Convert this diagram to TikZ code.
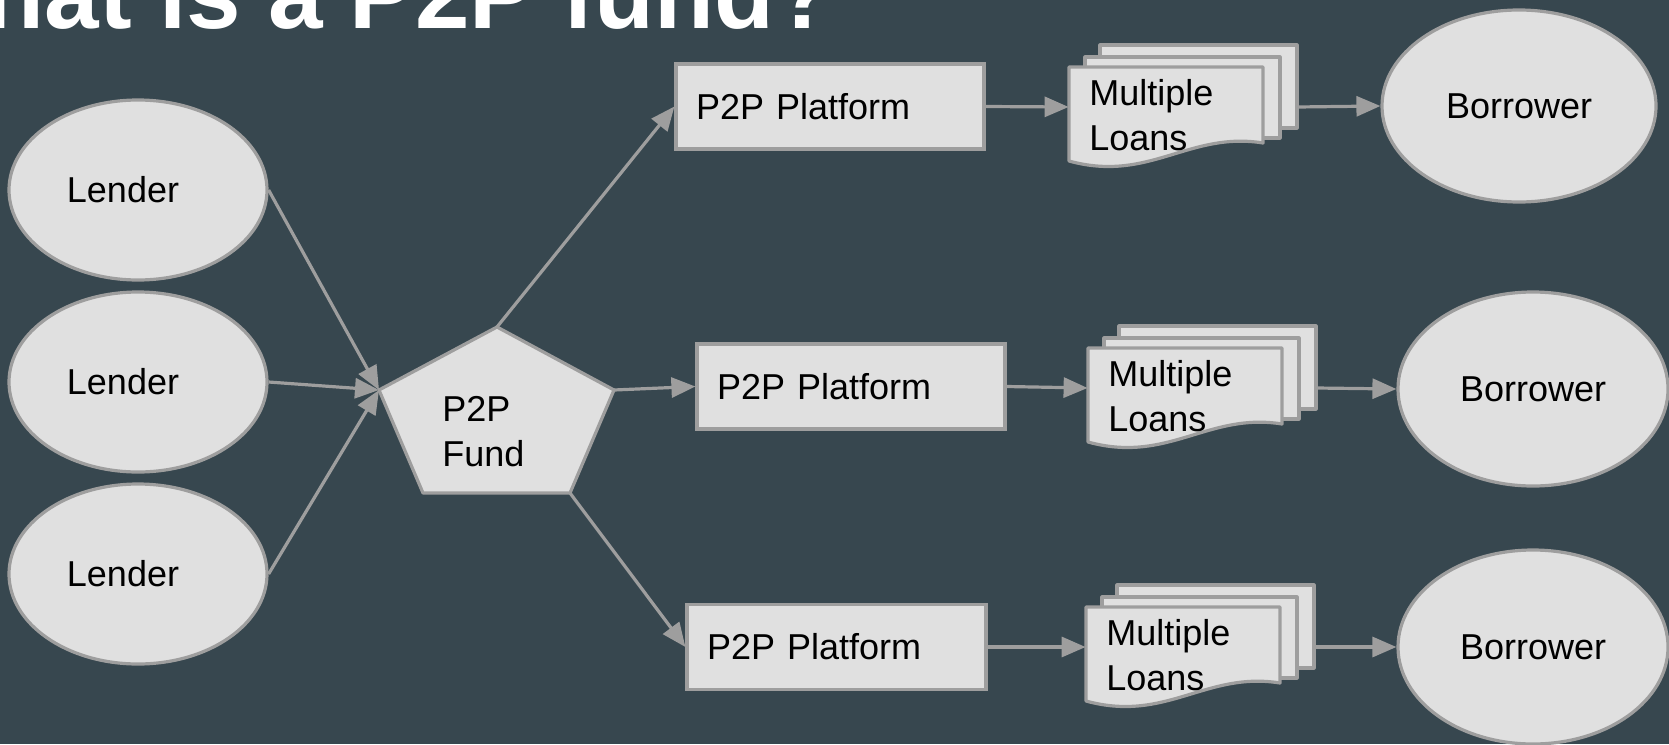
\documentclass[tikz,border=0pt]{standalone}
\usepackage{fontspec}
\setmainfont{Liberation Sans}
\usetikzlibrary{arrows.meta}
\usetikzlibrary{shapes.geometric}
\definecolor{slate}{HTML}{37474F}
\definecolor{paper}{HTML}{E0E0E0}
\definecolor{rim}{HTML}{9E9E9E}
\tikzset{
	party/.style={ellipse,draw=rim,fill=paper,line width=1.6pt,inner sep=0pt},
	platform/.style={rectangle,draw=rim,fill=paper,line width=1.6pt,inner xsep=10pt,inner ysep=0pt,minimum height=42.5pt,text width=134pt,align=left},
	sheet/.style={draw=rim,fill=paper,line width=1.6pt,line join=round},
	flow/.style={draw=rim,line width=1.6pt,-{Triangle[length=12pt,width=10pt]}},
}
\newcommand{\loanstack}[2]{%
	\begin{scope}[shift={#2}]
		\draw[sheet] (31,-22) rectangle (228,61);
		\draw[sheet] (16,-10) rectangle (211,71);
		\draw[sheet] (0,0) -- (194,0) -- (194,76) .. controls (120,64) and (80,116) .. (0,94) -- cycle;
		\node[anchor=base west,align=left,inner sep=0pt] (#1txt) at (20,83) {Multiple\\Loans};
		\node[inner sep=0pt,minimum width=114pt,minimum height=40pt] (#1) at (114,40) {};
	\end{scope}}
\begin{document}
\begin{tikzpicture}[x=0.5pt,y=-0.5pt,font=\fontsize{18}{22.5}\selectfont]
	\fill[slate] (0,0) rectangle (1669,744);
	\useasboundingbox (0,0) rectangle (1669,744);
	\node[anchor=base west,text=white,font=\fontsize{49}{52}\selectfont\bfseries,inner sep=0pt] (title) at (-108,28) {What is a P2P fund?};
	\node[party,minimum width=129pt,minimum height=90pt] (lender1) at (138,190) {Lender\hspace*{15pt}};
	\node[party,minimum width=129pt,minimum height=90pt] (lender2) at (138,382) {Lender\hspace*{15pt}};
	\node[party,minimum width=129pt,minimum height=90pt] (lender3) at (138,574) {Lender\hspace*{15pt}};
	\coordinate (fundtop) at (497,327);
	\coordinate (fundright) at (614,390);
	\coordinate (fundbr) at (570,493);
	\coordinate (fundbl) at (423,493);
	\coordinate (fundleft) at (379,390);
	\draw[sheet] (fundtop) -- (fundright) -- (fundbr) -- (fundbl) -- (fundleft) -- cycle;
	\node[anchor=base west,align=left,inner sep=0pt] (fund) at (442,466) {P2P\\Fund};
	\node[platform] (plat1) at (830,106.5) {P2P Platform};
	\node[platform] (plat2) at (851,386.5) {P2P Platform};
	\node[platform,text width=129.5pt] (plat3) at (836.5,647) {P2P Platform};
	\loanstack{loans1}{(1069,67)}
	\loanstack{loans2}{(1088,348)}
	\loanstack{loans3}{(1086,607)}
	\node[party,minimum width=137pt,minimum height=96pt] (borrower1) at (1519,106) {Borrower};
	\node[party,minimum width=135pt,minimum height=97pt] (borrower2) at (1533,389) {Borrower};
	\node[party,minimum width=135pt,minimum height=97pt] (borrower3) at (1533,647) {Borrower};
	\draw[flow] (lender1.east) -- (fundleft);
	\draw[flow] (lender2.east) -- (fundleft);
	\draw[flow] (lender3.east) -- (fundleft);
	\draw[flow] (fundtop) -- (plat1.west);
	\draw[flow] (fundright) -- (plat2.west);
	\draw[flow] (fundbr) -- (plat3.west);
	\draw[flow] (plat1.east) -- (loans1.west);
	\draw[flow] (plat2.east) -- (loans2.west);
	\draw[flow] (plat3.east) -- (loans3.west);
	\draw[flow] (loans1.east) -- (borrower1.west);
	\draw[flow] (loans2.east) -- (borrower2.west);
	\draw[flow] (loans3.east) -- (borrower3.west);
\end{tikzpicture}
\end{document}
